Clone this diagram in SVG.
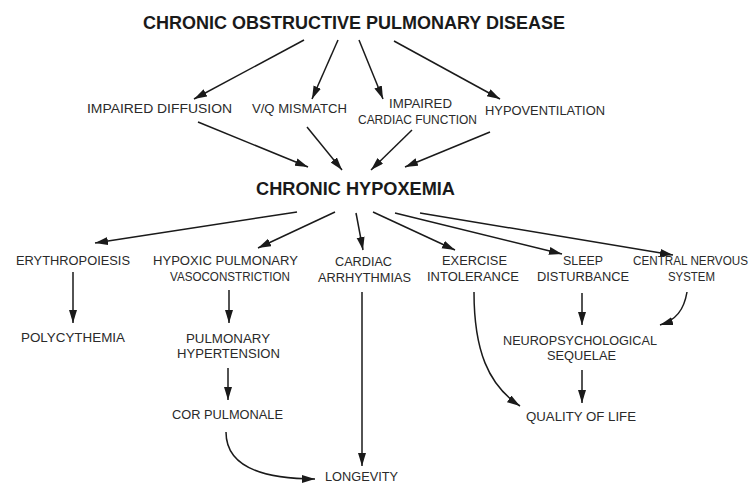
<svg xmlns="http://www.w3.org/2000/svg" width="751" height="486" viewBox="0 0 751 486">
<defs>
<marker id="ah" markerUnits="userSpaceOnUse" markerWidth="14" markerHeight="10" refX="13" refY="4" orient="auto">
<path d="M0,0 L13,4 L0,8 Z" fill="#1a1a1a"/>
</marker>
<style>
.t{font-family:"Liberation Sans",Arial,sans-serif;font-size:18px;font-weight:bold;fill:#1a1a1a}
.l{font-family:"Liberation Sans",Arial,sans-serif;font-size:12px;fill:#2a2a2a}
.c{fill:none;stroke:#1a1a1a;stroke-width:1.5;marker-end:url(#ah)}
</style>
</defs>
<rect width="751" height="486" fill="#ffffff"/>
<g id="connectors">
<path class="c" d="M304,40 L194,99"/>
<path class="c" d="M338,40 L312,99"/>
<path class="c" d="M359,40 L383,99"/>
<path class="c" d="M394,41 L500,99"/>
<path class="c" d="M198,122 L308,167"/>
<path class="c" d="M307,127 L342,170"/>
<path class="c" d="M412,130 L371,170"/>
<path class="c" d="M490,132 L405,167"/>
<path class="c" d="M297,212 L95,243"/>
<path class="c" d="M335,212 L258,248"/>
<path class="c" d="M356,213 L363,250"/>
<path class="c" d="M373,212 L455,250"/>
<path class="c" d="M395,213 L562,254"/>
<path class="c" d="M420,213 L673,255"/>
<path class="c" d="M73,272 L73,323"/>
<path class="c" d="M229,290 L229,323"/>
<path class="c" d="M362,292 L362,466"/>
<path class="c" d="M474,292 C474,350 488,385 520,406"/>
<path class="c" d="M582,293 L582,325"/>
<path class="c" d="M687,292 C684,310 676,320 660,325"/>
<path class="c" d="M228,368 L228,400"/>
<path class="c" d="M226,432 C226,466 262,479 315,479"/>
<path class="c" d="M582,370 L582,403"/>
</g>
<g id="copd"><text class="t" x="143" y="29" textLength="422" lengthAdjust="spacingAndGlyphs">CHRONIC OBSTRUCTIVE PULMONARY DISEASE</text></g>
<g id="impaired-diffusion"><text class="l" x="87" y="113" textLength="145" lengthAdjust="spacingAndGlyphs">IMPAIRED DIFFUSION</text></g>
<g id="vq-mismatch"><text class="l" x="252" y="113" textLength="95" lengthAdjust="spacingAndGlyphs">V/Q MISMATCH</text></g>
<g id="impaired-cardiac"><text class="l" x="389" y="108" textLength="63" lengthAdjust="spacingAndGlyphs">IMPAIRED</text><text class="l" x="358" y="124" textLength="119" lengthAdjust="spacingAndGlyphs">CARDIAC FUNCTION</text></g>
<g id="hypoventilation"><text class="l" x="485" y="115" textLength="120" lengthAdjust="spacingAndGlyphs">HYPOVENTILATION</text></g>
<g id="hypoxemia"><text class="t" x="256" y="195" textLength="199" lengthAdjust="spacingAndGlyphs">CHRONIC HYPOXEMIA</text></g>
<g id="erythropoiesis"><text class="l" x="16" y="265" textLength="114" lengthAdjust="spacingAndGlyphs">ERYTHROPOIESIS</text></g>
<g id="hpv"><text class="l" x="153" y="265" textLength="145" lengthAdjust="spacingAndGlyphs">HYPOXIC PULMONARY</text><text class="l" x="170" y="281" textLength="120" lengthAdjust="spacingAndGlyphs">VASOCONSTRICTION</text></g>
<g id="arrhythmias"><text class="l" x="335" y="266" textLength="57" lengthAdjust="spacingAndGlyphs">CARDIAC</text><text class="l" x="318" y="282" textLength="93" lengthAdjust="spacingAndGlyphs">ARRHYTHMIAS</text></g>
<g id="exercise"><text class="l" x="442" y="265" textLength="65" lengthAdjust="spacingAndGlyphs">EXERCISE</text><text class="l" x="427" y="281" textLength="92" lengthAdjust="spacingAndGlyphs">INTOLERANCE</text></g>
<g id="sleep"><text class="l" x="563" y="265" textLength="40" lengthAdjust="spacingAndGlyphs">SLEEP</text><text class="l" x="537" y="281" textLength="92" lengthAdjust="spacingAndGlyphs">DISTURBANCE</text></g>
<g id="cns"><text class="l" x="633" y="265" textLength="115" lengthAdjust="spacingAndGlyphs">CENTRAL NERVOUS</text><text class="l" x="668" y="281" textLength="47" lengthAdjust="spacingAndGlyphs">SYSTEM</text></g>
<g id="polycythemia"><text class="l" x="21" y="342" textLength="104" lengthAdjust="spacingAndGlyphs">POLYCYTHEMIA</text></g>
<g id="pulm-htn"><text class="l" x="186" y="343" textLength="84" lengthAdjust="spacingAndGlyphs">PULMONARY</text><text class="l" x="177" y="358" textLength="103" lengthAdjust="spacingAndGlyphs">HYPERTENSION</text></g>
<g id="neuro"><text class="l" x="503" y="345" textLength="154" lengthAdjust="spacingAndGlyphs">NEUROPSYCHOLOGICAL</text><text class="l" x="547" y="360" textLength="69" lengthAdjust="spacingAndGlyphs">SEQUELAE</text></g>
<g id="cor-pulmonale"><text class="l" x="172" y="419" textLength="111" lengthAdjust="spacingAndGlyphs">COR PULMONALE</text></g>
<g id="quality"><text class="l" x="526" y="421" textLength="110" lengthAdjust="spacingAndGlyphs">QUALITY OF LIFE</text></g>
<g id="longevity"><text class="l" x="325" y="481" textLength="73" lengthAdjust="spacingAndGlyphs">LONGEVITY</text></g>
</svg>
